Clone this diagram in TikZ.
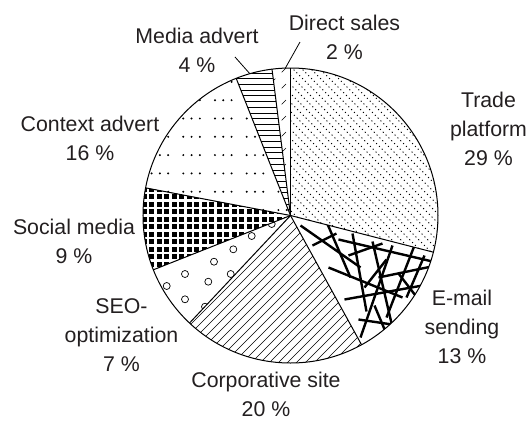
\documentclass[tikz,border=0pt]{standalone}
\usepackage{fontspec}
\setmainfont{Liberation Sans}
\definecolor{labelgray}{HTML}{231F20}

\tikzset{
  pielabel/.style={align=center, text=labelgray, inner sep=0pt,
    font=\fontsize{21.3}{29}\selectfont},
  rim/.style={line width=1pt},
  leader/.style={line width=0.8pt},
  hatchline/.style={line width=0.6pt},
  straw/.style={line width=2.4pt},
}

\begin{document}
\begin{tikzpicture}[x=1pt,y=1pt]
    \useasboundingbox (-290.5,-205.5) rectangle (237.5,215.5);
    \def\R{147.5}

    % Trade platform: dotted diagonals
    \begin{scope}
      \clip (0,0) -- (90:\R) arc (90:-14.4:\R) -- cycle;
      \foreach \c in {-40,-31,...,300}
        \draw[line width=1pt, dash pattern=on 1.1pt off 2.9pt] (\c-160,160) -- (\c+160,-160);
    \end{scope}

    % E-mail sending: crossing straws
    \begin{scope}
      \clip (0,0) -- (-14.4:\R) arc (-14.4:-61.2:\R) -- cycle;
      \foreach \a/\b in {{(10,-10)}/{(70,-52)}, {(35,-4)}/{(60,-62)},
                         {(48,-24)}/{(142,-46)}, {(62,-18)}/{(76,-96)},
                         {(82,-26)}/{(102,-112)}, {(88,-62)}/{(146,-50)},
                         {(38,-52)}/{(112,-82)}, {(102,-30)}/{(70,-122)},
                         {(124,-30)}/{(96,-102)}, {(54,-84)}/{(132,-70)},
                         {(108,-58)}/{(142,-102)}, {(134,-40)}/{(116,-82)},
                         {(68,-104)}/{(122,-112)}, {(84,-90)}/{(100,-128)},
                         {(58,-40)}/{(92,-28)}, {(114,-96)}/{(138,-74)},
                         {(22,-30)}/{(46,-18)}, {(96,-44)}/{(74,-72)}}
        \draw[straw] \a -- \b;
    \end{scope}

    % Corporative site: thin hatching
    \begin{scope}
      \clip (0,0) -- (-61.2:\R) arc (-61.2:-133.2:\R) -- cycle;
      \foreach \c in {0,9,...,216}
        \draw[hatchline] (\c-160,-160) -- (\c+160,160);
    \end{scope}

    % SEO-optimization: open circles
    \begin{scope}
      \clip (0,0) -- (-133.2:\R) arc (-133.2:-158.4:\R) -- cycle;
      \foreach \p in {(-18.8,-8.5), (-38.8,-20.5), (-57.2,-33.8), (-76.5,-46.2),
                      (-59.8,-58.5), (-105.5,-58.5), (-82.2,-66.2), (-123.8,-70.5),
                      (-105.5,-83.8), (-85.5,-91.2)}
        \draw[line width=0.7pt] \p circle (3.5);
    \end{scope}

    % Social media: black squares
    \begin{scope}
      \clip (0,0) -- (-158.4:\R) arc (-158.4:-190.8:\R) -- cycle;
      \fill (-160,-70) rectangle (0,40);
      \draw[white, line width=2.2pt, step=7.5pt] (-160,-70) grid (0,40);
    \end{scope}

    % Context advert: dots in threes
    \begin{scope}
      \clip (0,0) -- (-190.8:\R) arc (-190.8:-248.4:\R) -- cycle;
      \foreach \k in {-2,...,7}
        \foreach \j in {-2,...,3}
          \foreach \d in {0,1,2}
            \fill (-107.2+31.7*\j+8.3*\d, 23.8+18.3*\k) circle (1.1);
    \end{scope}

    % Media advert: horizontal lines
    \begin{scope}
      \clip (0,0) -- (-248.4:\R) arc (-248.4:-262.8:\R) -- cycle;
      \foreach \y in {0,5.7,...,150}
        \draw[line width=0.7pt] (-60,\y) -- (0,\y);
    \end{scope}

    % Direct sales: sparse strokes
    \begin{scope}
      \clip (0,0) -- (-262.8:\R) arc (-262.8:-270:\R) -- cycle;
      \foreach \c in {-40,-24,...,160}
        \draw[line width=0.6pt, dash pattern=on 6pt off 9pt] (-30,\c-30) -- (10,\c+10);
    \end{scope}

    % Outline
    \draw[rim] (0,0) circle (\R);
    \foreach \a in {-14.4,-61.2,-133.2,-158.4,-190.8,-248.4,-262.8}
      \draw[rim] (0,0) -- (\a:\R);
    \draw[line width=1.6pt] (0,0) -- (90:\R);

    % Labels
    \node[pielabel] (trade) at (198,86.3) {Trade\\platform\\29 \%};
    \node[pielabel] (email) at (171.5,-111.5) {E-mail\\sending\\13 \%};
    \node[pielabel] (corp) at (-24.5,-179) {Corporative site\\20 \%};
    \node[pielabel] (seo) at (-169,-119.5) {SEO-\\optimization\\7 \%};
    \node[pielabel] (social) at (-216.5,-25.7) {Social media\\9 \%};
    \node[pielabel] (context) at (-200.5,76.8) {Context advert\\16 \%};
    \node[pielabel] (media) at (-93.5,165) {Media advert\\4 \%};
    \node[pielabel] (direct) at (54,178) {Direct sales\\2 \%};

    % Leaders
    \coordinate (mediahead) at (-55.5,158.5);
    \coordinate (mediafoot) at (106:\R);
    \coordinate (directhead) at (9.5,173.5);
    \coordinate (directfoot) at (92:\R);
    \draw[leader] (mediahead) -- (mediafoot);
    \draw[leader] (directhead) -- (directfoot);
\end{tikzpicture}
\end{document}
